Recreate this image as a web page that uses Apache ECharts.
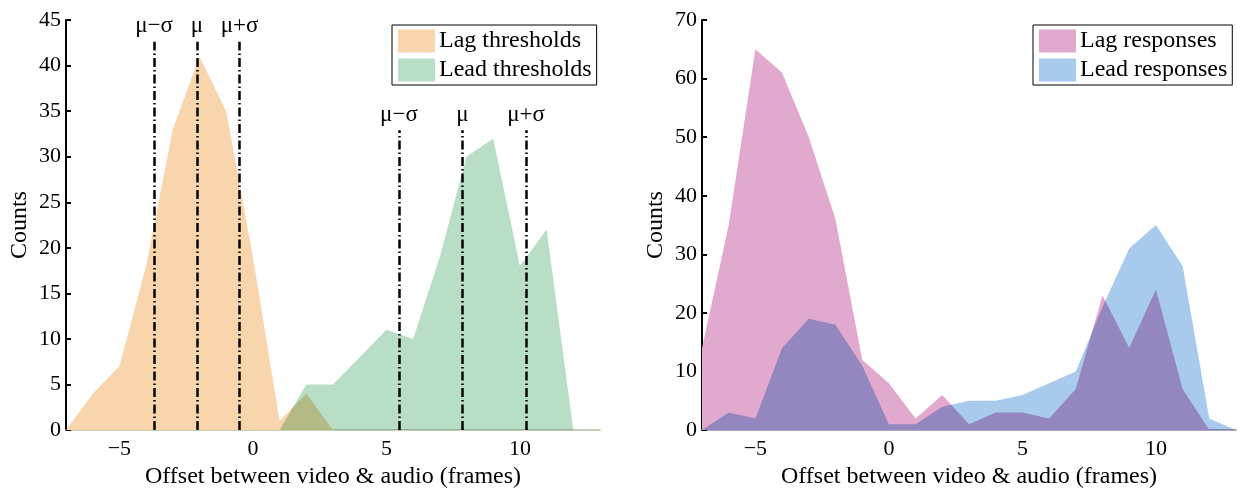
<!DOCTYPE html>
<html>
<head>
<meta charset="utf-8">
<script src="https://cdn.jsdelivr.net/npm/echarts@6/dist/echarts.min.js"></script>
<style>html,body{margin:0;padding:0;background:#fff}#c{width:1237px;height:494px}</style>
</head>
<body>
<div id="c"></div>
<script>
// ---- data ----
const xBins = [-7,-6,-5,-4,-3,-2,-1,0,1,2,3,4,5,6,7,8,9,10,11,12,13];
const lagThresholds  = [0,4,7,18,33,41,35,19,1,4,0,0,0,0,0,0,0,0,0,0,0];
const leadThresholds = [0,0,0,0,0,0,0,0,0,5,5,8,11,10,19,30,32,18,22,0,0];
const lagResponses   = [14,35,65,61,50,36,12,8,2,6,1,3,3,2,7,23,14,24,7,0,0];
const leadResponses  = [0,3,2,14,19,18,11,1,1,4,5,5,6,8,10,21,31,35,28,2,0];
const lagMarks  = [-3.7, -2.1, -0.5];
const leadMarks = [5.47, 7.85, 10.23];
const markNames = ['μ−σ', 'μ', 'μ+σ'];
const xTicks = [-5, 0, 5, 10];
const leftYMax = 45, rightYMax = 70;

const FONT = '"Liberation Serif","DejaVu Serif",serif';
const pts = arr => xBins.map((x, i) => [x, arr[i]]);
const minusFmt = v => String(v).replace('-', '\u2212');

function xAxis(gi) {
  return {
    gridIndex: gi, type: 'value', min: -7, max: 13,
    name: 'Offset between video & audio (frames)', nameLocation: 'middle', nameGap: 27,
    nameTextStyle: { fontFamily: FONT, fontSize: 24, color: '#000' },
    axisLine: { show: true, onZero: false, lineStyle: { color: gi === 0 ? '#aebf9f' : '#9a8aa6', width: 1.5 } },
    axisTick: { show: false },
    splitLine: { show: false },
    axisLabel: { customValues: xTicks, formatter: minusFmt, fontFamily: FONT, fontSize: 22, color: '#000', margin: 8 }
  };
}
function yAxis(gi, max, interval) {
  return {
    gridIndex: gi, type: 'value', min: 0, max: max, interval: interval,
    name: 'Counts', nameLocation: 'middle', nameGap: 34,
    nameTextStyle: { fontFamily: FONT, fontSize: 24, color: '#000' },
    axisLine: { show: true, onZero: false, lineStyle: { color: '#000', width: 2 } },
    axisTick: { show: true, inside: true, length: 5, lineStyle: { color: '#000', width: 2 } },
    splitLine: { show: false },
    axisLabel: { fontFamily: FONT, fontSize: 22, color: '#000', margin: 5 }
  };
}
function markLines(xs, top) {
  return {
    silent: true, symbol: ['none', 'none'], animation: false,
    lineStyle: { color: '#000', width: 2.5, type: [9, 3, 1.5, 3] },
    label: { show: true, position: 'end', formatter: '{b}', fontFamily: FONT, fontSize: 23, color: '#000', distance: 4 },
    data: xs.map((x, i) => [{ name: markNames[i], coord: [x, 0] }, { coord: [x, top] }])
  };
}
function area(name, data, color, xi, blend, extra) {
  const s = {
    name: name, type: 'line', xAxisIndex: xi, yAxisIndex: xi,
    data: pts(data), showSymbol: false, symbol: 'none',
    color: color,
    lineStyle: { width: 0, color: color },
    itemStyle: { color: color },
    areaStyle: { color: color, opacity: 1 },
    animation: false
  };
  if (blend) s.blendMode = 'multiply';
  return Object.assign(s, extra || {});
}
const legendBase = {
  orient: 'vertical', icon: 'rect', itemWidth: 37, itemHeight: 23, itemGap: 5,
  padding: [4, 5, 3, 6], borderColor: '#000', borderWidth: 1, backgroundColor: '#fff',
  selectedMode: false,
  textStyle: { fontFamily: FONT, fontSize: 24, color: '#000', padding: [0, 0, 0, -1] }
};

const chart = echarts.init(document.getElementById('c'), null, { renderer: 'canvas' });
chart.setOption({
  backgroundColor: '#fff',
  animation: false,
  grid: [
    { left: 66, top: 20, width: 534, height: 420 },
    { left: 702, top: 20, width: 534, height: 421 }
  ],
  xAxis: [xAxis(0), xAxis(1)],
  yAxis: [yAxis(0, leftYMax, 5), yAxis(1, rightYMax, 10)],
  legend: [
    Object.assign({}, legendBase, { left: 392, top: 25, data: ['Lag thresholds', 'Lead thresholds'] }),
    Object.assign({}, legendBase, { left: 1033, top: 25, data: ['Lag responses', 'Lead responses'] })
  ],
  series: [
    area('Lag thresholds', lagThresholds, '#f9d5ae', 0, false),
    area('Lead thresholds', leadThresholds, '#b8dfc5', 0, true, {
      markLine: markLines(lagMarks, 42.6)
    }),
    area('Lead thresholds marks', leadThresholds.map(() => 0), 'rgba(0,0,0,0)', 0, false, {
      markLine: markLines(leadMarks, 32.9), areaStyle: { opacity: 0 }
    }),
    area('Lag responses', lagResponses, '#e1a9ce', 1, false),
    area('Lead responses', leadResponses, '#a8caec', 1, true)
  ]
});
</script>
</body>
</html>
